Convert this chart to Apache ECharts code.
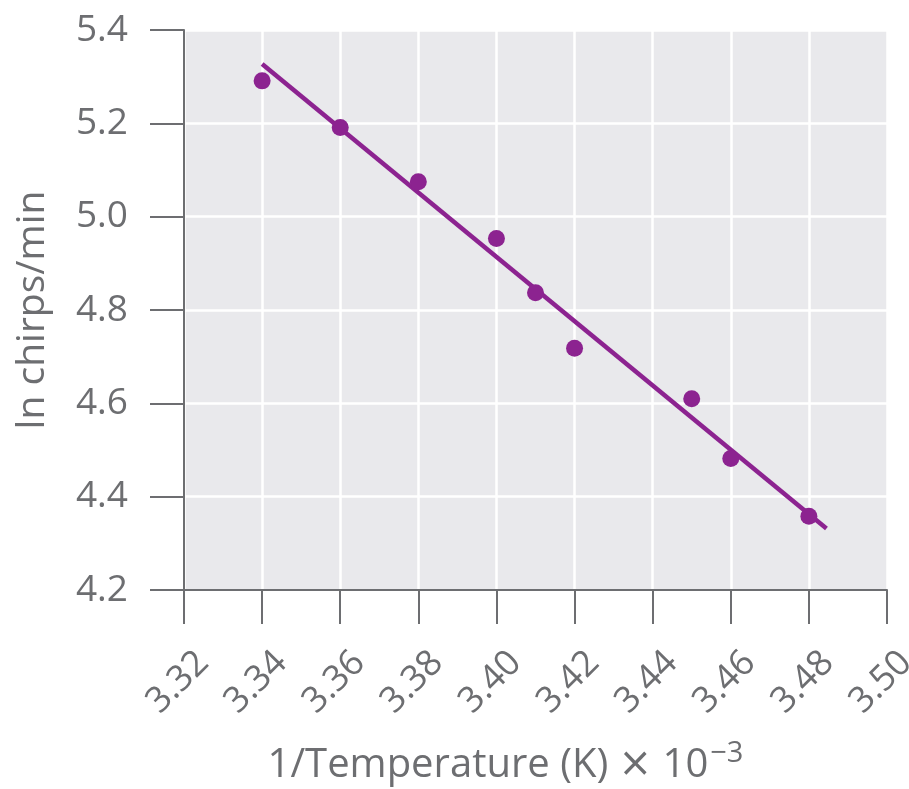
<!DOCTYPE html>
<html>
<head>
<meta charset="utf-8">
<script src="https://cdn.jsdelivr.net/npm/echarts@6/dist/echarts.min.js"></script>
<style>html,body{margin:0;padding:0;background:#fff}#c{width:909px;height:789px}</style>
</head>
<body>
<div id="c"></div>
<script>
// Data
const xVals = [3.34, 3.36, 3.38, 3.40, 3.41, 3.42, 3.45, 3.46, 3.48];
const yVals = [5.291, 5.191, 5.075, 4.953, 4.837, 4.718, 4.610, 4.482, 4.358];
const fitX = [3.34, 3.4845];
const fitY = [5.327, 4.332];
const xTicks = [3.32, 3.34, 3.36, 3.38, 3.40, 3.42, 3.44, 3.46, 3.48, 3.50];
const yTicks = [4.2, 4.4, 4.6, 4.8, 5.0, 5.2, 5.4];
const xTitle = '1/Temperature (K) ';
const xTitleTimes = '\u00D7';
const xTitleBase = ' 10';
const xTitleSup = '\u22123';
const yTitle = 'ln chirps/min';

const purple = '#8c2390';
const gray = '#6d6e71';
const font = 'Open Sans';

const chart = echarts.init(document.getElementById('c'), null, {renderer: 'canvas'});
chart.setOption({
  animation: false,
  backgroundColor: '#ffffff',
  grid: {
    left: 184, right: 22, top: 30, bottom: 199,
    outerBoundsMode: 'none', containLabel: false,
    show: true, backgroundColor: '#e9e9ec', borderWidth: 0
  },
  xAxis: {
    type: 'value',
    min: xTicks[0], max: xTicks[xTicks.length - 1], interval: 0.02,
    axisLine: {show: true, onZero: false, lineStyle: {color: gray, width: 2}},
    axisTick: {show: true, inside: false, length: 34, lineStyle: {color: gray, width: 2}},
    splitLine: {show: true, lineStyle: {color: '#ffffff', width: 2.5}},
    axisLabel: {
      rotate: 45, margin: 48, color: gray, fontFamily: font, fontSize: 36,
      verticalAlign: 'top', padding: [9, 0, 0, 0],
      formatter: v => v.toFixed(2)
    },
    name: '{a|' + xTitle + '}{x|' + xTitleTimes + '}{a|' + xTitleBase + '}{s|' + xTitleSup + '}',
    nameLocation: 'middle',
    nameGap: 149,
    nameTextStyle: {
      padding: [0, 60, 0, 0],
      rich: {
        a: {color: gray, fontFamily: font, fontSize: 40},
        x: {color: gray, fontFamily: 'DejaVu Sans', fontSize: 40},
        s: {color: gray, fontFamily: font, fontSize: 29, padding: [0, 0, 24, 2]}
      }
    }
  },
  yAxis: {
    type: 'value',
    min: yTicks[0], max: yTicks[yTicks.length - 1], interval: 0.2,
    axisLine: {show: true, onZero: false, lineStyle: {color: gray, width: 2}},
    axisTick: {show: true, inside: false, length: 34, lineStyle: {color: gray, width: 2}},
    splitLine: {show: true, lineStyle: {color: '#ffffff', width: 2.5}},
    axisLabel: {
      margin: 56, color: gray, fontFamily: font, fontSize: 37,
      formatter: v => v.toFixed(1)
    },
    name: yTitle,
    nameLocation: 'middle',
    nameGap: 132,
    nameTextStyle: {color: gray, fontFamily: font, fontSize: 39}
  },
  series: [
    {
      type: 'line',
      data: fitX.map((x, i) => [x, fitY[i]]),
      symbol: 'none',
      lineStyle: {color: purple, width: 4.5},
      z: 2
    },
    {
      type: 'scatter',
      data: xVals.map((x, i) => [x, yVals[i]]),
      symbolSize: 17,
      itemStyle: {color: purple, opacity: 1},
      z: 3
    }
  ]
});
</script>
</body>
</html>
